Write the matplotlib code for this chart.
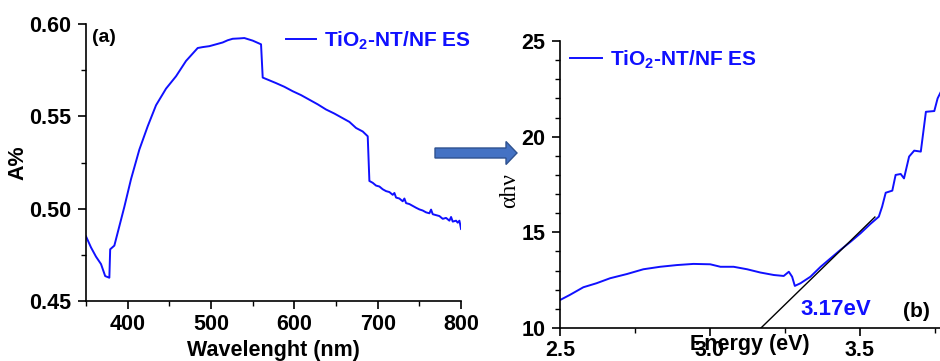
import matplotlib.pyplot as plt
from matplotlib.patches import FancyArrow
from matplotlib.ticker import MultipleLocator

plt.rcParams['font.family'] = ['Liberation Sans', 'DejaVu Sans']
plt.rcParams['mathtext.fontset'] = 'custom'
plt.rcParams['mathtext.rm'] = 'Liberation Sans:bold'

# (a) absorbance spectrum
wavelength = [350, 356, 362, 368, 373, 378, 379, 384, 390, 396, 404, 414, 424, 434,
              446, 458, 470, 484, 490, 498, 506, 514, 520, 526, 534, 540, 550, 556,
              560, 562, 570, 578, 588, 598, 608, 618, 628, 638, 648, 658, 666, 674,
              682, 688, 690, 694, 698, 702, 706, 710, 714, 718, 720, 722, 726, 730,
              732, 734, 738, 742, 746, 750, 754, 758, 762, 764, 766, 770, 774, 778,
              782, 786, 788, 790, 794, 796, 798, 800]
absorb = [0.485, 0.479, 0.474, 0.470, 0.4635, 0.4626, 0.478, 0.480, 0.4905, 0.501,
          0.516, 0.532, 0.5446, 0.556, 0.565, 0.5717, 0.580, 0.587, 0.5875, 0.588,
          0.589, 0.590, 0.5912, 0.592, 0.5922, 0.5924, 0.591, 0.5898, 0.589, 0.571,
          0.5695, 0.568, 0.566, 0.5636, 0.5615, 0.559, 0.5565, 0.5537, 0.5515,
          0.549, 0.547, 0.5437, 0.5418, 0.5392, 0.515, 0.514, 0.5125, 0.512,
          0.5105, 0.5095, 0.509, 0.5075, 0.5085, 0.506, 0.5055, 0.504, 0.5055,
          0.503, 0.5025, 0.5015, 0.5005, 0.4996, 0.499, 0.498, 0.4975, 0.4995,
          0.497, 0.4965, 0.496, 0.4945, 0.495, 0.4935, 0.4955, 0.493, 0.4935,
          0.4924, 0.4935, 0.489]

# (b) alpha*h*nu vs photon energy
energy = [2.500, 2.533, 2.578, 2.622, 2.667, 2.723, 2.778, 2.834, 2.890, 2.945,
          3.001, 3.035, 3.079, 3.124, 3.168, 3.213, 3.246, 3.263, 3.274, 3.283,
          3.302, 3.335, 3.369, 3.402, 3.435, 3.469, 3.502, 3.535, 3.563, 3.574,
          3.586, 3.608, 3.619, 3.636, 3.647, 3.664, 3.681, 3.703, 3.720, 3.748,
          3.759, 3.770]
ahv = [11.46, 11.73, 12.13, 12.34, 12.60, 12.82, 13.07, 13.20, 13.29, 13.35,
       13.33, 13.20, 13.20, 13.07, 12.90, 12.77, 12.72, 12.94, 12.68, 12.20,
       12.34, 12.68, 13.20, 13.64, 14.08, 14.51, 14.95, 15.44, 15.82, 16.34,
       17.07, 17.18, 18.00, 18.05, 17.82, 18.96, 19.27, 19.22, 21.30, 21.34,
       22.00, 22.35]

# Tauc extrapolation to the band gap
fit_e = [3.17, 3.55]
fit_y = [10.0, 15.8]
gap_label = '3.17eV'

series = r'TiO$_\mathrm{2}$-NT/NF ES'
blue = '#1010ff'
tick_fs = 15.5

fig = plt.figure(figsize=(9.4, 3.61), dpi=100)
ax1 = fig.add_axes([0.0915, 0.1662, 0.399, 0.7673])
ax2 = fig.add_axes([0.5957, 0.0914, 0.4043, 0.795])

for ax in (ax1, ax2):
    for s in ('top', 'right'):
        ax.spines[s].set_visible(False)
    for s in ('left', 'bottom'):
        ax.spines[s].set_linewidth(1.2)
    ax.tick_params(which='major', length=6, width=1.2, labelsize=tick_fs)
    ax.tick_params(which='minor', length=3.5, width=1.0)

ax1.plot(wavelength, absorb, color=blue, lw=1.4, label=series)
ax1.set_xlim(350, 800)
ax1.set_ylim(0.45, 0.60)
ax1.xaxis.set_minor_locator(MultipleLocator(50))
ax1.yaxis.set_minor_locator(MultipleLocator(0.025))
ax1.set_yticks([0.45, 0.50, 0.55, 0.60], ['0.45', '0.50', '0.55', '0.60'],
               fontweight='bold')
ax1.set_xticks([400, 500, 600, 700, 800], ['400', '500', '600', '700', '800'],
               fontweight='bold')
ax1.tick_params(axis='x', pad=3)
ax1.tick_params(axis='y', pad=4.5)
ax1.set_xlabel('Wavelenght (nm)', fontsize=15.5, fontweight='bold')
ax1.xaxis.set_label_coords(0.5, -0.177)
ax1.xaxis.label.set_va('center')
ax1.set_ylabel('A%', fontsize=15.5, fontweight='bold')
ax1.yaxis.set_label_coords(-0.181, 0.5)
ax1.yaxis.label.set_va('center')
ax1.text(0.016, 0.953, '(a)', transform=ax1.transAxes, fontsize=14,
         fontweight='bold', va='center', ha='left')
ax1.legend(loc='center left', bbox_to_anchor=(286 / 940, 1 - 41 / 361),
           bbox_transform=fig.transFigure, frameon=False, borderpad=0,
           borderaxespad=0, handlelength=1.45, handletextpad=0.35,
           labelcolor=blue, prop={'size': 15, 'weight': 'bold'})

ax2.plot(energy, ahv, color=blue, lw=1.4, label=series)
ax2.plot(fit_e, fit_y, color='black', lw=1.0)
ax2.set_xlim(2.5, 3.767)
ax2.set_ylim(10, 25)
ax2.xaxis.set_minor_locator(MultipleLocator(0.25))
ax2.yaxis.set_minor_locator(MultipleLocator(1))
ax2.set_yticks([10, 15, 20, 25], ['10', '15', '20', '25'], fontweight='bold')
ax2.set_xticks([2.5, 3.0, 3.5], ['2.5', '3.0', '3.5'], fontweight='bold')
ax2.tick_params(axis='x', pad=2.5)
ax2.tick_params(axis='y', pad=4.5)
ax2.set_xlabel('Energy (eV)', fontsize=15.5, fontweight='bold')
ax2.xaxis.set_label_coords(0.5, -0.059)
ax2.xaxis.label.set_va('center')
ax2.set_ylabel('αhν', fontsize=17, family=['Liberation Serif', 'DejaVu Serif'])
ax2.yaxis.set_label_coords(-0.1316, 0.48)
ax2.yaxis.label.set_va('center')
ax2.text(3.303, 10.99, gap_label, color=blue, fontsize=16, fontweight='bold',
         ha='left', va='center')
ax2.text(0.903, 0.056, '(b)', transform=ax2.transAxes, fontsize=15,
         fontweight='bold', ha='left', va='center')
ax2.legend(loc='center left', bbox_to_anchor=(570 / 940, 1 - 60 / 361),
           bbox_transform=fig.transFigure, frameon=False, borderpad=0,
           borderaxespad=0, handlelength=1.55, handletextpad=0.35,
           labelcolor=blue, prop={'size': 15, 'weight': 'bold'})

# block arrow linking the two panels
arrow = FancyArrow(435 / 940, 1 - 153 / 361, 82 / 940, 0, width=10 / 361,
                   head_width=23 / 361, head_length=11 / 940,
                   length_includes_head=True, transform=fig.transFigure,
                   facecolor='#4472c4', edgecolor='#2f528f', lw=1.0)
fig.patches.append(arrow)

fig.savefig('out.png', dpi=100)
